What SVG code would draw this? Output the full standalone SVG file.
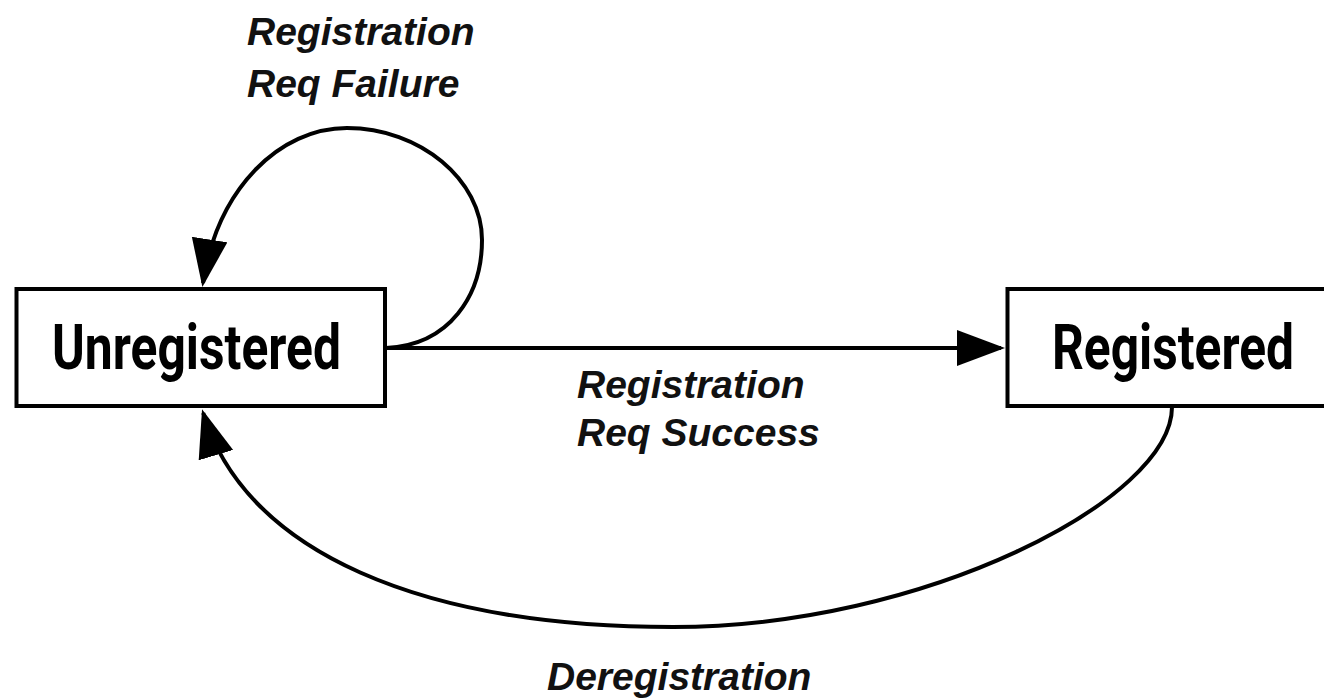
<svg xmlns="http://www.w3.org/2000/svg" width="1324" height="700" viewBox="0 0 1324 700">
  <style>
    .box { fill: #ffffff; stroke: #000000; stroke-width: 4; }
    .node-label { font-family: Roboto, "Liberation Sans", sans-serif; font-weight: 700; font-size: 63px; fill: #000000; }
    .edge { fill: none; stroke: #000000; stroke-width: 4; }
    .edge-label { font-family: "Liberation Sans", Arial, sans-serif; font-style: italic; font-weight: 700; font-size: 39px; fill: #111111; }
  </style>
  <defs>
    <marker id="arrow" markerUnits="userSpaceOnUse" markerWidth="50" markerHeight="38" refX="44" refY="18" orient="auto">
      <path d="M0,0 L48,18 L0,36 z" fill="#000000"/>
    </marker>
  </defs>
  <rect width="1324" height="700" fill="#ffffff"/>

  <g id="connectors">
    <path id="edge-failure" class="edge" marker-end="url(#arrow)" d="M386,348 C450,345 482,295 482,240 C482,180 420,128 347,128 C280,128 217.5,188 203,283"/>
    <path id="edge-success" class="edge" marker-end="url(#arrow)" d="M386,348 L1001,348"/>
    <path id="edge-dereg" class="edge" marker-end="url(#arrow)" d="M1172,407 C1172,500 923,627 673,627 C423,627 245.5,553 203.2,413"/>
    <text class="edge-label" x="247" y="45">Registration</text>
    <text class="edge-label" x="247" y="97">Req Failure</text>
    <text class="edge-label" x="577" y="398">Registration</text>
    <text class="edge-label" x="577" y="446">Req Success</text>
    <text class="edge-label" x="547" y="690">Deregistration</text>
  </g>

  <g id="node-unregistered">
    <rect class="box" x="16.5" y="289" width="368.5" height="117"/>
    <text class="node-label" x="52" y="369" textLength="289" lengthAdjust="spacingAndGlyphs">Unregistered</text>
  </g>

  <g id="node-registered">
    <rect class="box" x="1007.5" y="289" width="400" height="117"/>
    <text class="node-label" x="1052" y="369" textLength="242" lengthAdjust="spacingAndGlyphs">Registered</text>
  </g>
</svg>
